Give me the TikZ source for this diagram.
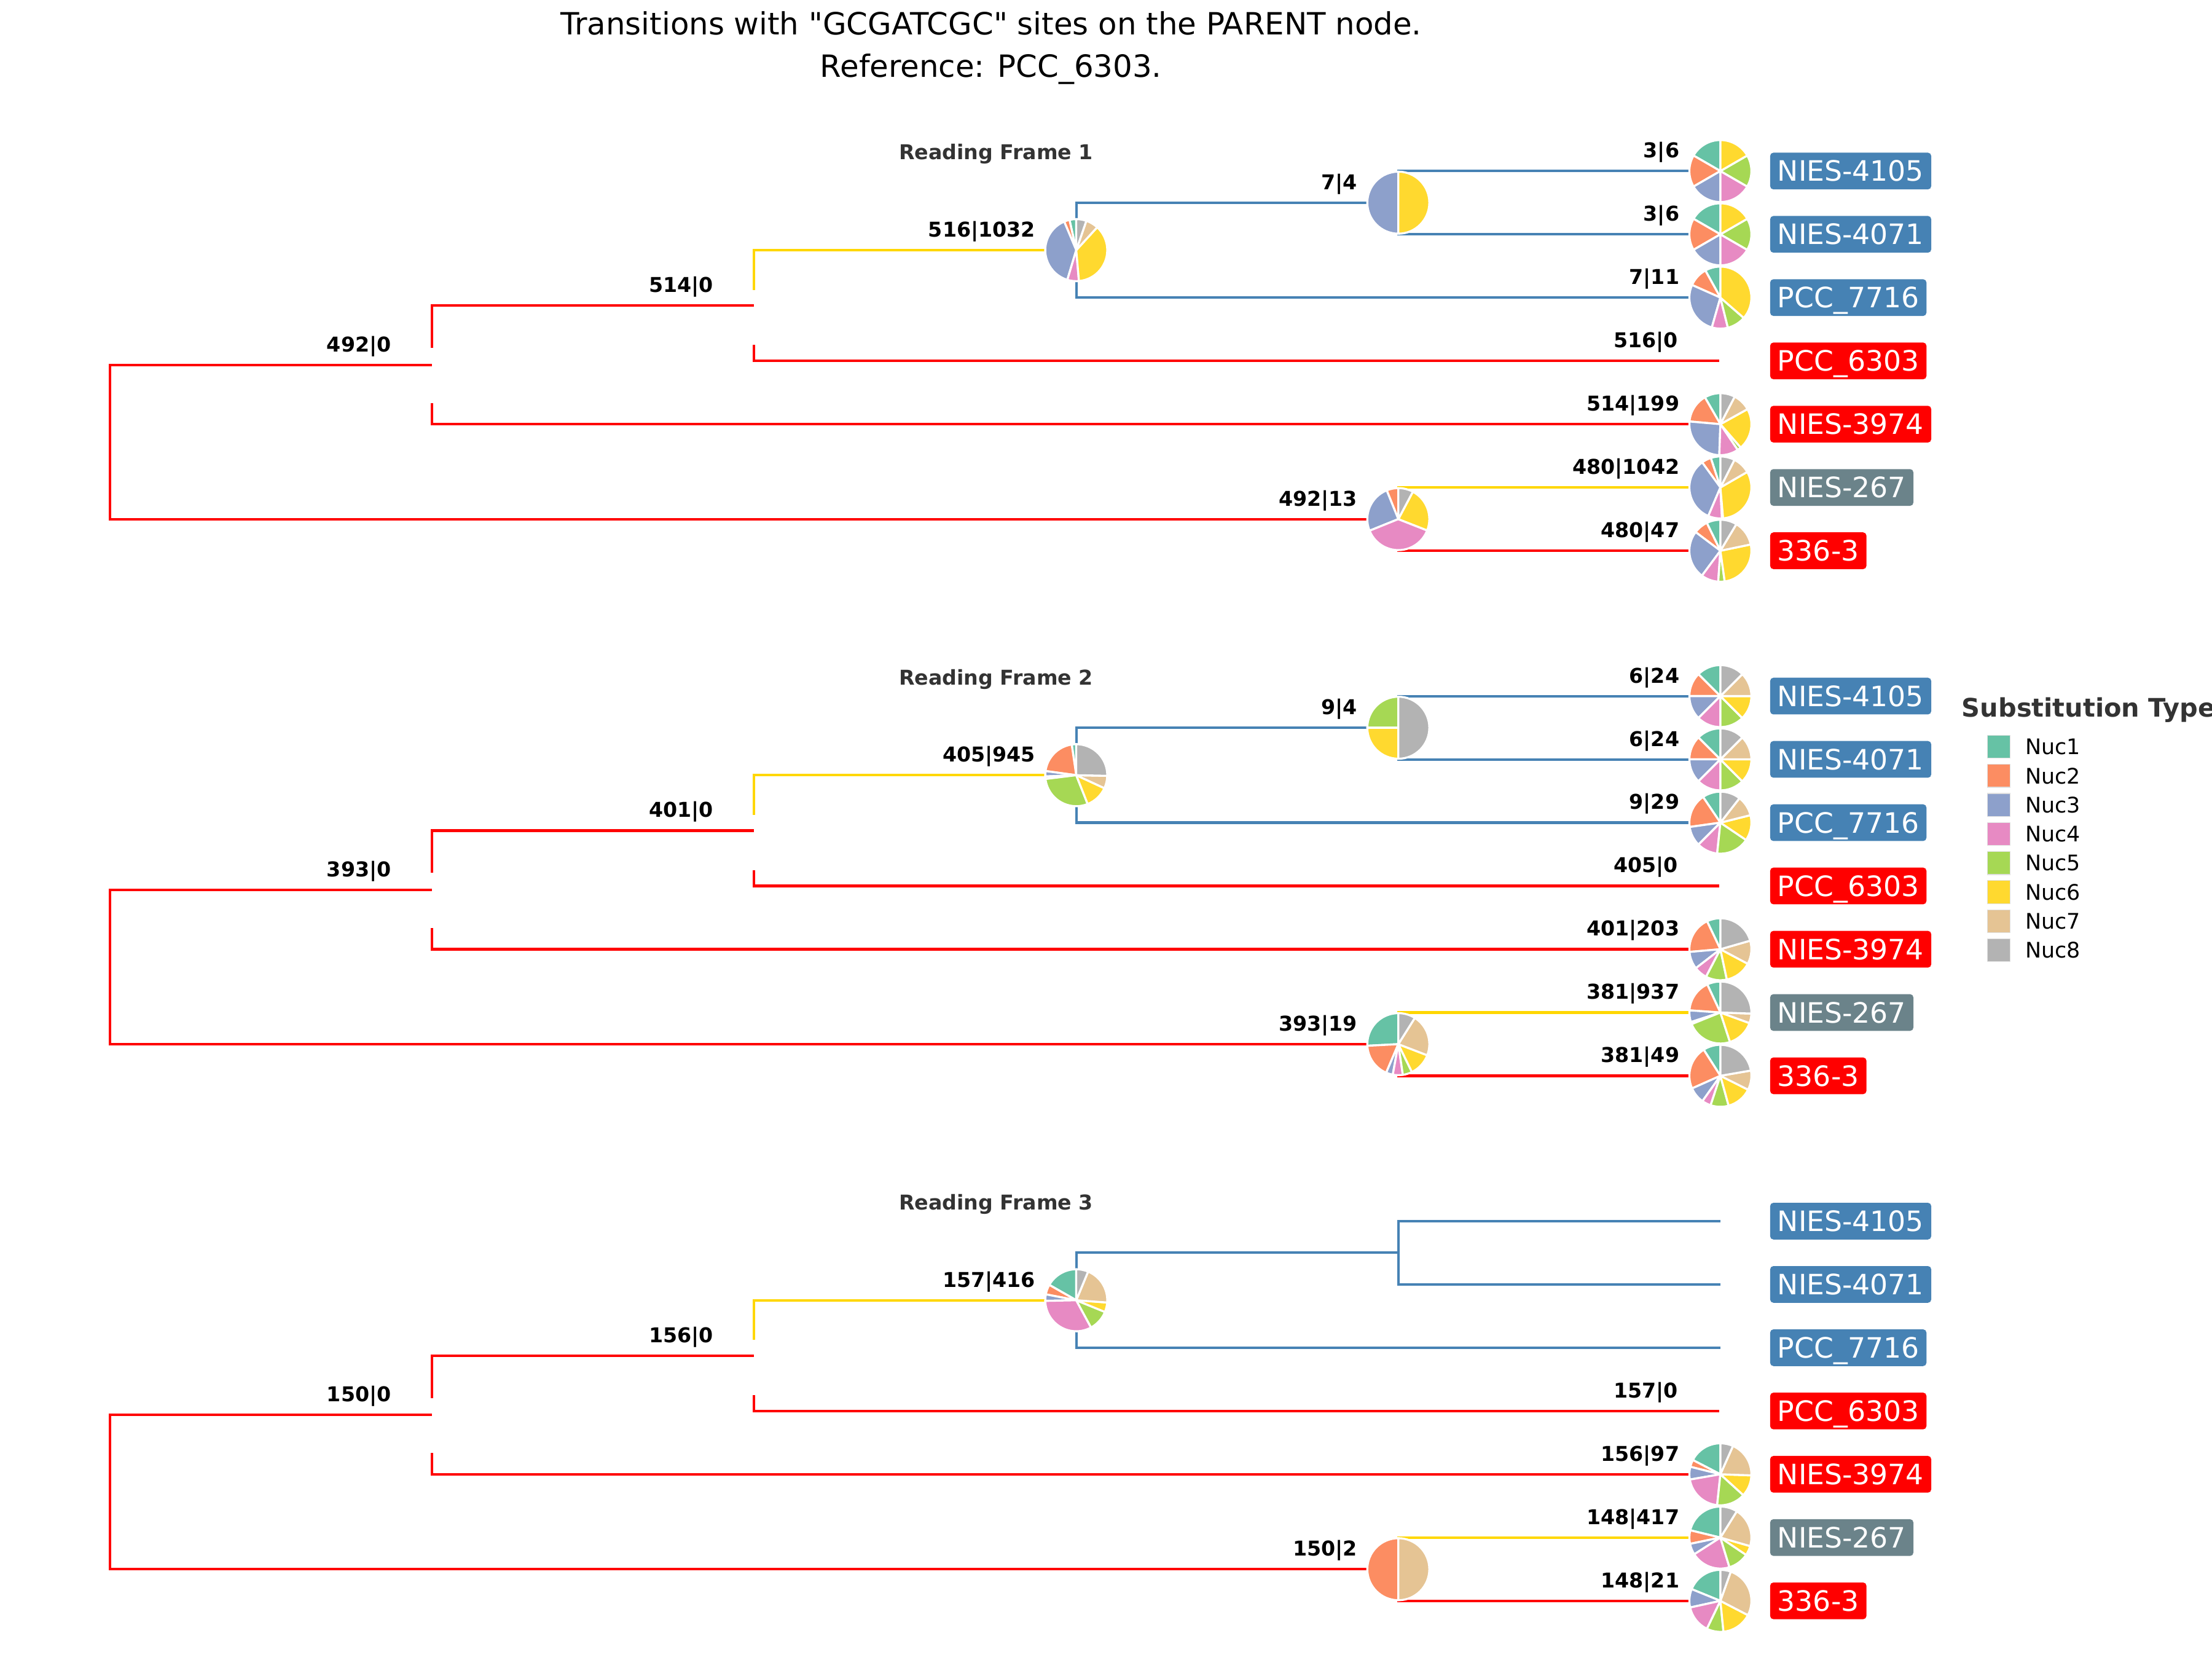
\documentclass[tikz,border=0pt]{standalone}
\usepackage{fontspec}
\setmainfont{DejaVu Sans}[Ligatures=TeXOff]
\definecolor{n1}{HTML}{66C2A5}
\definecolor{n2}{HTML}{FC8D62}
\definecolor{n3}{HTML}{8DA0CB}
\definecolor{n4}{HTML}{E78AC3}
\definecolor{n5}{HTML}{A6D854}
\definecolor{n6}{HTML}{FFD92F}
\definecolor{n7}{HTML}{E5C494}
\definecolor{n8}{HTML}{B3B3B3}
\definecolor{bblue}{HTML}{4682B4}
\definecolor{bred}{HTML}{FF0000}
\definecolor{bgold}{HTML}{FFD700}
\definecolor{bgray}{HTML}{6B838A}
\definecolor{dgray}{HTML}{333333}

\newcommand{\drawpie}[2]{%
  \gdef\pieang{90}%
  \foreach \pcol/\pdeg in {#2}{%
    \pgfmathsetmacro\pieend{\pieang+\pdeg}%
    \filldraw[fill=\pcol, draw=white, line width=0.8pt, line join=round] (#1) -- ++(\pieang:12.16pt) arc[start angle=\pieang, end angle=\pieend, radius=12.16pt] -- cycle;%
    \global\let\pieang\pieend
  }%
}

\newcommand{\treecoords}[2]{%
  \pgfmathsetmacro\yLa{-(121.2+#2)}%
  \pgfmathsetmacro\yLb{-(166.05+#2)}%
  \pgfmathsetmacro\yLc{-(210.9+#2)}%
  \pgfmathsetmacro\yLd{-(255.75+#2)}%
  \pgfmathsetmacro\yLe{-(300.6+#2)}%
  \pgfmathsetmacro\yLf{-(345.45+#2)}%
  \pgfmathsetmacro\yLg{-(390.3+#2)}%
  \pgfmathsetmacro\yE{(\yLa+\yLb)/2}%
  \pgfmathsetmacro\yD{(\yE+\yLc)/2}%
  \pgfmathsetmacro\yC{(\yD+\yLd)/2}%
  \pgfmathsetmacro\yA{(\yC+\yLe)/2}%
  \pgfmathsetmacro\yB{(\yLf+\yLg)/2}%
  \pgfmathsetmacro\yR{(\yA+\yB)/2}%
  \coordinate (#1L0) at (1219.5,\yLa);
  \coordinate (#1L1) at (1219.5,\yLb);
  \coordinate (#1L2) at (1219.5,\yLc);
  \coordinate (#1L3) at (1218.5,\yLd);
  \coordinate (#1L4) at (1219.5,\yLe);
  \coordinate (#1L5) at (1219.5,\yLf);
  \coordinate (#1L6) at (1219.5,\yLg);
  \coordinate (#1E) at (991.2,\yE);
  \coordinate (#1D) at (762.9,\yD);
  \coordinate (#1C) at (534.6,\yC);
  \coordinate (#1Cup) at (534.6,{\yC+11});
  \coordinate (#1Cdn) at (534.6,{\yC-28});
  \coordinate (#1A) at (306.3,\yA);
  \coordinate (#1Aup) at (306.3,{\yA+12});
  \coordinate (#1Adn) at (306.3,{\yA-27});
  \coordinate (#1B) at (991.2,\yB);
  \coordinate (#1R) at (78,\yR);
}

\newcommand{\treebranches}[1]{%
  \draw[br, bred] (#1R) |- (#1A);
  \draw[br, bred] (#1R) |- (#1B);
  \draw[br, bred] (#1Adn) |- (#1L4);
  \draw[br, bred] (#1Aup) |- (#1C);
  \draw[br, bgold] (#1Cup) |- (#1D);
  \draw[br, bred] (#1Cdn) |- (#1L3);
  \draw[br, bblue] (#1D) |- (#1E);
  \draw[br, bblue] (#1D) |- (#1L2);
  \draw[br, bblue] (#1E) |- (#1L0);
  \draw[br, bblue] (#1E) |- (#1L1);
  \draw[br, bgold] (#1B) |- (#1L5);
  \draw[br, bred] (#1B) |- (#1L6);
}

\newcommand{\blab}[3]{\path (#1) ++(-28.7,9.4) node[blab] (#3) {#2};}

\newcommand{\leafboxes}[1]{%
  \path (#1L0) ++(34.9,0) node[leafbox, fill=bblue] (#1n0) {NIES-4105};
  \path (#1L1) ++(34.9,0) node[leafbox, fill=bblue] (#1n1) {NIES-4071};
  \path (#1L2) ++(34.9,0) node[leafbox, fill=bblue] (#1n2) {PCC\_7716};
  \path (#1L3) ++(35.9,0) node[leafbox, fill=bred] (#1n3) {PCC\_6303};
  \path (#1L4) ++(34.9,0) node[leafbox, fill=bred] (#1n4) {NIES-3974};
  \path (#1L5) ++(34.9,0) node[leafbox, fill=bgray] (#1n5) {NIES-267};
  \path (#1L6) ++(34.9,0) node[leafbox, fill=bred] (#1n6) {336-3};
}

\begin{document}
\begin{tikzpicture}[x=0.0194388cm, y=0.0194388cm,
  br/.style={line width=1pt},
  blab/.style={font=\fontsize{8}{9.6}\selectfont\bfseries, inner sep=0pt, anchor=base east},
  leafbox/.style={font=\fontsize{11}{13}\selectfont, text=white, anchor=west, rounded corners=1.3pt, inner xsep=2.9pt, inner ysep=0pt, minimum height=14.4pt, text height=8.0pt, text depth=0pt},
  rflab/.style={font=\fontsize{8}{9.6}\selectfont\bfseries, text=dgray, anchor=base, inner sep=0pt},
  titlab/.style={font=\fontsize{12}{14}\selectfont, anchor=base, inner sep=0pt},
  legsq/.style={minimum size=9pt, inner sep=0pt, draw=white!88!black, line width=0.3pt},
  legtx/.style={font=\fontsize{8.4}{10}\selectfont, anchor=base west, inner sep=0pt}
]
\useasboundingbox (0,0) rectangle (1568,-1176);

\node[titlab] (title1) at (702.5,-24.5) {Transitions with "GCGATCGC" sites on the PARENT node.};
\node[titlab] (title2) at (702.5,-54.5) {Reference: PCC\_6303.};

% ---------------- Frame 1
\treecoords{a}{0}
\treebranches{a}
\node[rflab] (arf) at (706,-113.2) {Reading Frame 1};
\drawpie{aE}{n3/180, n6/180}
\drawpie{aD}{n1/12.6, n2/10.3, n3/140.4, n4/21.7, n6/132.5, n7/23.5, n8/19}
\drawpie{aB}{n2/22, n3/90, n4/136.6, n6/83.4, n8/28}
\drawpie{aL0}{n1/60, n2/60, n3/60, n4/60, n5/60, n6/60}
\drawpie{aL1}{n1/60, n2/60, n3/60, n4/60, n5/60, n6/60}
\drawpie{aL2}{n1/29, n2/37, n3/98, n4/30, n5/35, n6/131}
\drawpie{aL4}{n1/30, n2/55, n3/93, n4/36, n5/7, n6/78, n7/33.5, n8/27.5}
\drawpie{aL5}{n1/18, n2/18, n3/121, n4/26, n5/2, n6/115, n7/33, n8/27}
\drawpie{aL6}{n1/26, n2/27, n3/90.5, n4/32.5, n5/12, n6/93.7, n7/47.3, n8/31}
\blab{aA}{492|0}{ab1}
\blab{aC}{514|0}{ab2}
\blab{aD}{516|1032}{ab3}
\blab{aE}{7|4}{ab4}
\blab{aL0}{3|6}{ab5}
\blab{aL1}{3|6}{ab6}
\blab{aL2}{7|11}{ab7}
\blab{aL3}{516|0}{ab8}
\blab{aL4}{514|199}{ab9}
\blab{aB}{492|13}{ab10}
\blab{aL5}{480|1042}{ab11}
\blab{aL6}{480|47}{ab12}
\leafboxes{a}

% ---------------- Frame 2
\treecoords{b}{372.1}
\treebranches{b}
\node[rflab] (brf) at (706,-485.3) {Reading Frame 2};
\drawpie{bE}{n5/90, n6/90, n8/180}
\drawpie{bD}{n1/8.4, n2/73.9, n3/10.1, n4/4.6, n5/104.6, n6/43.6, n7/23.6, n8/91.2}
\drawpie{bB}{n1/93, n2/64, n3/12.7, n4/18.7, n5/17.6, n6/43, n7/78.8, n8/32.2}
\drawpie{bL0}{n1/45, n2/45, n3/45, n4/45, n5/45, n6/45, n7/45, n8/45}
\drawpie{bL1}{n1/45, n2/45, n3/45, n4/45, n5/45, n6/45, n7/45, n8/45}
\drawpie{bL2}{n1/34, n2/64, n3/37, n4/39, n5/62, n6/48, n7/38, n8/38}
\drawpie{bL4}{n1/25.5, n2/69.5, n3/32.7, n4/24.8, n5/39.5, n6/50, n7/44, n8/74}
\drawpie{bL5}{n1/25, n2/61, n3/22, n4/4, n5/86, n6/52, n7/18, n8/92}
\drawpie{bL6}{n1/32.6, n2/81.4, n3/30.7, n4/16.9, n5/33.8, n6/48, n7/36.4, n8/80.2}
\blab{bA}{393|0}{bb1}
\blab{bC}{401|0}{bb2}
\blab{bD}{405|945}{bb3}
\blab{bE}{9|4}{bb4}
\blab{bL0}{6|24}{bb5}
\blab{bL1}{6|24}{bb6}
\blab{bL2}{9|29}{bb7}
\blab{bL3}{405|0}{bb8}
\blab{bL4}{401|203}{bb9}
\blab{bB}{393|19}{bb10}
\blab{bL5}{381|937}{bb11}
\blab{bL6}{381|49}{bb12}
\leafboxes{b}

% ---------------- Frame 3
\treecoords{c}{744.2}
\treebranches{c}
\node[rflab] (crf) at (706,-857.4) {Reading Frame 3};
\drawpie{cD}{n1/60.3, n2/18.7, n3/12.2, n4/117.3, n5/39.3, n6/18, n7/71.7, n8/22.5}
\drawpie{cB}{n2/180, n7/180}
\drawpie{cL4}{n1/62.6, n2/13.4, n3/23.8, n4/74.2, n5/53.7, n6/40.3, n7/68, n8/24}
\drawpie{cL5}{n1/76.4, n2/25.3, n3/20.9, n4/74.4, n5/39, n6/18, n7/74, n8/32}
\drawpie{cL6}{n1/67.8, n3/34.6, n4/51.9, n5/31.4, n6/56.9, n7/97.8, n8/19.6}
\blab{cA}{150|0}{cb1}
\blab{cC}{156|0}{cb2}
\blab{cD}{157|416}{cb3}
\blab{cL3}{157|0}{cb8}
\blab{cL4}{156|97}{cb9}
\blab{cB}{150|2}{cb10}
\blab{cL5}{148|417}{cb11}
\blab{cL6}{148|21}{cb12}
\leafboxes{c}

% ---------------- Legend
\node[font=\fontsize{10}{12}\selectfont\bfseries, text=dgray, anchor=base west, inner sep=0pt] (legt) at (1390.3,-508) {Substitution Type};
\foreach \i/\c in {1/n1,2/n2,3/n3,4/n4,5/n5,6/n6,7/n7,8/n8}{
  \node[legsq, fill=\c] (lsq\i) at (1416.8,{-(529.2+20.6*(\i-1))}) {};
  \node[legtx] (ltx\i) at (1435.3,{-(529.2+20.6*(\i-1)+5.55)}) {Nuc\i};
}
\end{tikzpicture}
\end{document}
